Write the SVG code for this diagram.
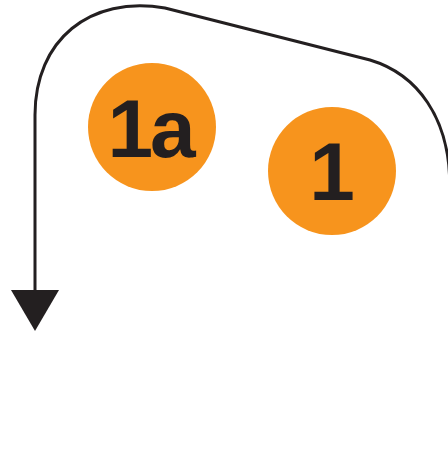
<svg xmlns="http://www.w3.org/2000/svg" width="448" height="450" viewBox="0 0 448 450">
<style>
.c{fill:#F7941D}
.t{font-family:"Liberation Sans",Arial,sans-serif;font-weight:bold;font-size:82px;fill:#231F20;text-anchor:middle}
.l{fill:none;stroke:#231F20;stroke-width:3}
</style>
<rect width="448" height="450" fill="#fff"/>
<g id="connectors">
<path class="l" d="M449.5,450 L449.5,175 C447,120 420,75 370,60 L165,8 C90,-5 35,40 35,115 L35,295"/>
<polygon points="11,290 59,290 35,331" fill="#231F20"/>
</g>
<g id="node-1a">
<circle class="c" cx="152" cy="127" r="64"/>
<text class="t" x="150" y="157" letter-spacing="-3">1a</text>
</g>
<g id="node-1">
<circle class="c" cx="332" cy="171" r="64"/>
<text class="t" x="332" y="200">1</text>
</g>
</svg>
